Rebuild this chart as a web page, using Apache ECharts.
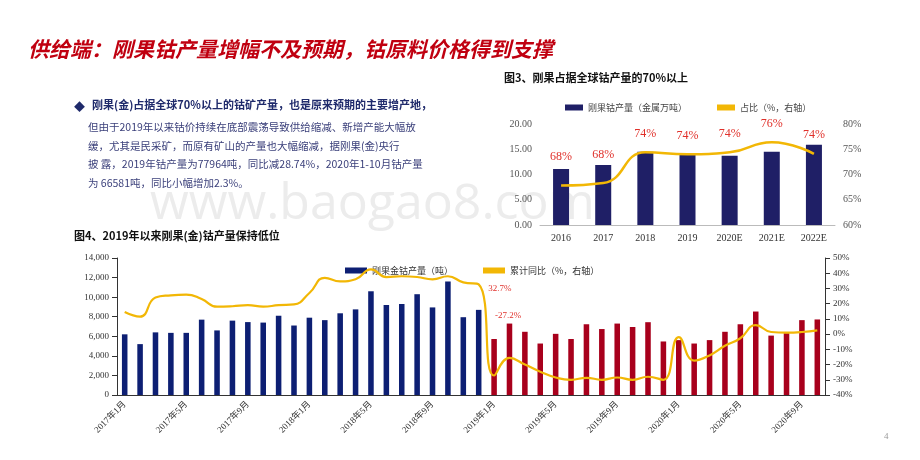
<!DOCTYPE html>
<html>
<meta charset="utf-8">
<body style="margin:0;background:#fff">
<div id="main" style="width:920px;height:460px;"></div>
<script src="https://cdn.jsdelivr.net/npm/echarts@6/dist/echarts.min.js"></script>
<script>
// 图3 数据
var years = ['2016', '2017', '2018', '2019', '2020E', '2021E', '2022E'];
var congoOutput = [11.1, 11.9, 14.5, 13.9, 13.7, 14.5, 15.9];
var congoShare = [67.8, 68.3, 74.4, 74.0, 74.4, 76.4, 74.1];

// 图4 数据（2017年1月 - 2020年10月）
var months = [];
for (var y = 2017; y <= 2020; y++) {
    for (var m = 1; m <= 12; m++) {
        if (y === 2020 && m > 10) break;
        months.push(y + '年' + m + '月');
    }
}
var monthlyOutput = [
    6200, 5200, 6400, 6350, 6350, 7700, 6600, 7600, 7450, 7400, 8100, 7100,
    7900, 7650, 8350, 8750, 10600, 9200, 9300, 10300, 8950, 11600, 7950, 8700,
    5720, 7300, 6460, 5260, 6250, 5720, 7230, 6740, 7300, 6950, 7440, 5470,
    5610, 5260, 5610, 6460, 7230, 8530, 6070, 6320, 7650, 7720
];
var cumYoy = [
    14.5, 11.5, 24, 25.5, 26, 23, 18, 18.3, 19, 18, 19, 19.5,
    27, 37, 34.6, 36, 42.5, 37.5, 38, 37.5, 36, 38, 34, 32.7,
    -27.2, -15.6, -20, -24.7, -28.5, -30, -28.7, -30, -28.5, -30, -28, -30,
    -2, -17.4, -14, -7.7, -2.7, 5.9, 1.4, 1, 1.4, 2.5
];

var serif = '"Liberation Serif", "Noto Sans CJK SC", serif';
var cjk = '"Noto Sans CJK SC", sans-serif';

var yoyData = cumYoy.map(function (v, i) {
    if (i === 23) return {value: v, label: {show: true, formatter: '32.7%', position: 'right', offset: [4, 4], color: '#e0302a', fontSize: 9, fontFamily: serif}};
    if (i === 24) return {value: v, label: {show: true, formatter: '-27.2%', position: 'top', offset: [14, -50], color: '#e0302a', fontSize: 9, fontFamily: serif}};
    return v;
});
var shareData = congoShare.map(function (v, i) {
    return i < 2 ? {value: v, label: {distance: 22}} : v;
});

var myChart = echarts.init(document.getElementById('main'));
var option = {
    animation: false,
    graphic: [
        {type: 'text', left: 28, top: 39, style: {text: '供给端：刚果钴产量增幅不及预期，钴原料价格得到支撑', fill: '#c00010', font: 'italic bold 21px "Noto Sans CJK SC"'}},
        {type: 'text', left: 150, top: 180, z: -1, style: {text: 'www.baogao8.com', fill: '#ececec', font: '50px "Open Sans"'}},
        {type: 'text', left: 74, top: 101, style: {text: '◆', fill: '#1f2a6b', font: '11px "Noto Sans CJK SC"'}},
        {type: 'text', left: 92, top: 99, style: {text: '刚果(金)占据全球70%以上的钴矿产量，也是原来预期的主要增产地，', fill: '#1f2a6b', font: 'bold 11px "Noto Sans CJK SC"'}},
        {type: 'text', left: 88, top: 118, style: {
            text: '但由于2019年以来钴价持续在底部震荡导致供给缩减、新增产能大幅放\n缓，尤其是民采矿，而原有矿山的产量也大幅缩减，据刚果(金)央行\n披 露，2019年钴产量为77964吨，同比减28.74%，2020年1-10月钴产量\n为 66581吨，同比小幅增加2.3%。',
            fill: '#3a3f7a', font: '10.5px "Noto Sans CJK SC"', lineHeight: 18.5}},
        {type: 'text', left: 504, top: 72, style: {text: '图3、刚果占据全球钴产量的70%以上', fill: '#111', font: 'bold 11px "Noto Sans CJK SC"'}},
        {type: 'text', left: 74, top: 230, style: {text: '图4、2019年以来刚果(金)钴产量保持低位', fill: '#111', font: 'bold 11px "Noto Sans CJK SC"'}},
        {type: 'text', left: 884, top: 432, style: {text: '4', fill: '#999', font: '9px "Liberation Serif"'}}
    ],
    legend: [
        {top: 98, left: 560, itemWidth: 18, itemHeight: 6, itemGap: 30,
            textStyle: {fontFamily: cjk, fontSize: 9, color: '#444'},
            data: [{name: '刚果钴产量（金属万吨）', icon: 'rect'}, {name: '占比（%，右轴）', icon: 'rect', itemStyle: {color: '#f2b705', opacity: 1}}]},
        {top: 261, left: 340, itemWidth: 22, itemHeight: 6, itemGap: 30,
            textStyle: {fontFamily: cjk, fontSize: 9, color: '#333'},
            data: [{name: '刚果金钴产量（吨）', icon: 'rect', itemStyle: {color: '#0d1f73'}}, {name: '累计同比（%，右轴）', icon: 'rect', itemStyle: {color: '#f2b705', opacity: 1}}]}
    ],
    grid: [
        {left: 540, right: 85, top: 124, height: 101},
        {left: 117, right: 95, top: 258, height: 137}
    ],
    xAxis: [
        {type: 'category', gridIndex: 0, data: years,
            axisLine: {lineStyle: {color: '#bbb'}}, axisTick: {show: false},
            axisLabel: {fontFamily: serif, fontSize: 10, color: '#333'}},
        {type: 'category', gridIndex: 1, data: months,
            axisLine: {lineStyle: {color: '#333'}}, axisTick: {interval: 3, lineStyle: {color: '#333'}},
            axisLabel: {interval: 3, rotate: 45, fontFamily: serif, fontSize: 9, color: '#333'}}
    ],
    yAxis: [
        {type: 'value', gridIndex: 0, min: 0, max: 20, interval: 5, splitLine: {show: false},
            axisLabel: {formatter: function (v) { return v.toFixed(2); }, fontFamily: serif, fontSize: 10, color: '#555'}},
        {type: 'value', gridIndex: 0, min: 60, max: 80, interval: 5, splitLine: {show: false},
            axisLabel: {formatter: '{value}%', fontFamily: serif, fontSize: 10, color: '#555'}},
        {type: 'value', gridIndex: 1, min: 0, max: 14000, interval: 2000, splitLine: {show: false},
            axisLine: {show: true, lineStyle: {color: '#333'}}, axisTick: {show: true},
            axisLabel: {formatter: function (v) { return v.toLocaleString('en-US'); }, fontFamily: serif, fontSize: 9, color: '#333'}},
        {type: 'value', gridIndex: 1, min: -40, max: 50, interval: 10, splitLine: {show: false},
            axisLine: {show: true, lineStyle: {color: '#333'}}, axisTick: {show: true},
            axisLabel: {formatter: '{value}%', fontFamily: serif, fontSize: 9, color: '#333'}}
    ],
    series: [
        {name: '刚果钴产量（金属万吨）', type: 'bar', xAxisIndex: 0, yAxisIndex: 0, data: congoOutput,
            barWidth: '38%', itemStyle: {color: '#1f1f66'}},
        {name: '占比（%，右轴）', type: 'line', xAxisIndex: 0, yAxisIndex: 1, data: shareData, z: 5,
            smooth: true, symbol: 'circle', symbolSize: 1, showSymbol: true, itemStyle: {color: 'rgba(0,0,0,0)'},
            lineStyle: {color: '#f2b705', width: 2.5},
            label: {show: true, position: 'top', distance: 12, formatter: function (p) { return Math.round(p.value) + '%'; }, color: '#e0302a', fontSize: 12, fontFamily: serif}},
        {name: '刚果金钴产量（吨）', type: 'bar', xAxisIndex: 1, yAxisIndex: 2, data: monthlyOutput,
            barWidth: '36%', itemStyle: {color: function (p) { return p.dataIndex < 24 ? '#0d1f73' : '#a8001c'; }}},
        {name: '累计同比（%，右轴）', type: 'line', xAxisIndex: 1, yAxisIndex: 3, data: yoyData, z: 5,
            smooth: true, symbol: 'circle', symbolSize: 1, showSymbol: true, itemStyle: {color: 'rgba(0,0,0,0)'},
            lineStyle: {color: '#f2b705', width: 2.2}}
    ]
};
myChart.setOption(option);
</script>
</body>
</html>
